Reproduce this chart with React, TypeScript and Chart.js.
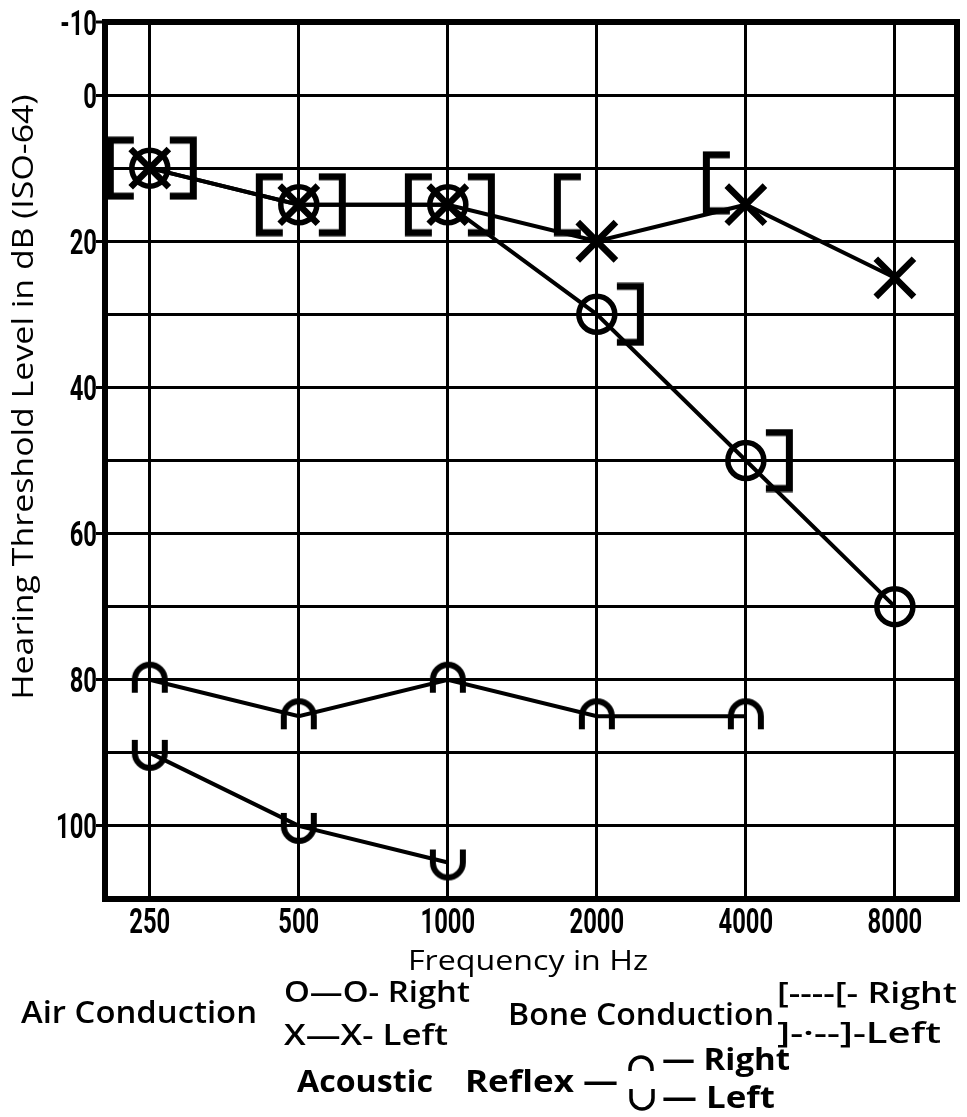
import { useEffect, useRef } from "react";
import { Chart, registerables } from "chart.js";

Chart.register(...registerables);

// ---------- data ----------
const frequencies = [250, 500, 1000, 2000, 4000, 8000];
const airRight: (number | null)[] = [10, 15, 15, 30, 50, 70];
const airLeft: (number | null)[] = [10, 15, 15, 20, 15, 25];
const boneRight: (number | null)[] = [10, 15, 15, 15, 12, null];
const boneLeft: (number | null)[] = [10, 15, 15, 30, 50, null];
const reflexRight: (number | null)[] = [80, 85, 80, 85, 85, null];
const reflexLeft: (number | null)[] = [90, 100, 105, null, null, null];
const xTickLabels = ["250", "500", "1000", "2000", "4000", "8000"];
const yTickLabels = [-10, 0, 20, 40, 60, 80, 100];
const yMin = -10;
const yMax = 110;
const xTitle = "Frequency in Hz";
const yTitle = "Hearing Threshold Level in dB (ISO-64)";

const TICK_FONT = 'bold 35px Roboto, "DejaVu Sans", sans-serif';
const TEXT_FONT = '"Open Sans", "Noto Sans", sans-serif';

function toPoints(values: (number | null)[]) {
  return frequencies
    .map((f, i) => ({ x: f, y: values[i] }))
    .filter((p) => p.y !== null) as { x: number; y: number }[];
}

function makeCanvas(w: number, h: number, draw: (c: CanvasRenderingContext2D) => void) {
  const c = document.createElement("canvas");
  c.width = w;
  c.height = h;
  const ctx = c.getContext("2d")!;
  ctx.strokeStyle = "#000";
  ctx.fillStyle = "#000";
  draw(ctx);
  return c;
}

function fitText(
  ctx: CanvasRenderingContext2D,
  text: string,
  x: number,
  baseline: number,
  width: number,
  font: string,
  align: "left" | "center" = "left"
) {
  ctx.save();
  ctx.font = font;
  ctx.textBaseline = "alphabetic";
  ctx.textAlign = "left";
  ctx.fillStyle = "#000";
  const m = ctx.measureText(text).width || 1;
  const sx = width / m;
  const left = align === "center" ? x - width / 2 : x;
  ctx.translate(left, baseline);
  ctx.scale(sx, 1);
  ctx.fillText(text, 0, 0);
  ctx.restore();
}

// condensed bold tick text
function tickText(
  ctx: CanvasRenderingContext2D,
  text: string,
  x: number,
  baseline: number,
  align: "right" | "center"
) {
  ctx.save();
  ctx.font = TICK_FONT;
  ctx.textBaseline = "alphabetic";
  ctx.textAlign = align;
  ctx.fillStyle = "#000";
  ctx.translate(x, baseline);
  ctx.scale(0.68, 1);
  ctx.fillText(text, 0, 0);
  ctx.restore();
}

export default function App() {
  const ref = useRef<HTMLCanvasElement | null>(null);

  useEffect(() => {
    document.body.style.margin = "0";
    const canvas = ref.current!;

    const bracketOpen = makeCanvas(100, 64, (c) => {
      c.lineWidth = 7;
      c.lineJoin = "miter";
      c.beginPath();
      c.moveTo(34, 4);
      c.lineTo(10.5, 4);
      c.lineTo(10.5, 60);
      c.lineTo(34, 60);
      c.stroke();
    });
    const bracketClose = makeCanvas(100, 64, (c) => {
      c.lineWidth = 7;
      c.lineJoin = "miter";
      c.beginPath();
      c.moveTo(70, 4);
      c.lineTo(93.5, 4);
      c.lineTo(93.5, 60);
      c.lineTo(70, 60);
      c.stroke();
    });
    const cap = makeCanvas(48, 48, (c) => {
      c.lineWidth = 6;
      c.beginPath();
      c.moveTo(9, 37);
      c.lineTo(9, 24);
      c.arc(24, 24, 15, Math.PI, Math.PI * 2);
      c.lineTo(39, 37);
      c.stroke();
    });
    const cup = makeCanvas(48, 48, (c) => {
      c.lineWidth = 6;
      c.beginPath();
      c.moveTo(9, 11);
      c.lineTo(9, 24);
      c.arc(24, 24, 15, Math.PI, 0, true);
      c.lineTo(39, 11);
      c.stroke();
    });

    const decor = {
      id: "decor",
      beforeDatasetsDraw(chart: any) {
        const { ctx, chartArea: a } = chart;
        ctx.save();
        ctx.strokeStyle = "#000";
        ctx.lineWidth = 6;
        ctx.strokeRect(a.left, a.top, a.right - a.left, a.bottom - a.top);
        ctx.restore();
      },
      afterDraw(chart: any) {
        const { ctx, chartArea: a } = chart;
        const xs = chart.scales.x;
        const ys = chart.scales.y;
        // tick labels, placed through the scales
        frequencies.forEach((f, i) => {
          tickText(ctx, xTickLabels[i], xs.getPixelForValue(f), a.bottom + 34, "center");
        });
        yTickLabels.forEach((v) => {
          tickText(ctx, String(v), a.left - 8, ys.getPixelForValue(v) + 12.5, "right");
        });
        // y title
        ctx.save();
        ctx.translate(33, 397);
        ctx.rotate(-Math.PI / 2);
        fitText(ctx, yTitle, 0, 0, 605, `500 29px ${TEXT_FONT}`, "center");
        ctx.restore();
        // x title
        fitText(ctx, xTitle, 408, 970, 240, `500 28px ${TEXT_FONT}`);
        // legend
        const reg = `600 28px ${TEXT_FONT}`;
        const big = `600 31px ${TEXT_FONT}`;
        const bold = `bold 30px ${TEXT_FONT}`;
        fitText(ctx, "Air Conduction", 21, 1023, 236, big);
        fitText(ctx, "O\u2014O- Right", 284, 1002, 186, reg);
        fitText(ctx, "X\u2014X- Left", 284, 1045, 164, reg);
        fitText(ctx, "Bone Conduction", 508, 1025, 266, big);
        fitText(ctx, "[----[- Right", 777, 1003, 180, reg);
        fitText(ctx, "]-\u00b7--]-Left", 777, 1043, 164, reg);
        fitText(ctx, "Acoustic", 297, 1092, 136, bold);
        fitText(ctx, "Reflex \u2014", 465, 1092, 153, bold);
        fitText(ctx, "\u2014 Right", 662, 1070, 128, bold);
        fitText(ctx, "\u2014 Left", 662, 1108, 113, bold);
        ctx.save();
        ctx.strokeStyle = "#000";
        ctx.lineWidth = 3.5;
        ctx.beginPath();
        ctx.moveTo(630, 1071);
        ctx.arc(641, 1068, 11, Math.PI, Math.PI * 2);
        ctx.lineTo(652, 1071);
        ctx.stroke();
        ctx.beginPath();
        ctx.moveTo(631, 1089);
        ctx.lineTo(631, 1098);
        ctx.arc(642, 1098, 11, Math.PI, 0, true);
        ctx.lineTo(653, 1089);
        ctx.stroke();
        ctx.restore();
      },
    };

    const lineBase = {
      type: "line" as const,
      borderColor: "#000",
      pointBorderColor: "#000",
      pointBackgroundColor: "rgba(0,0,0,0)",
      tension: 0,
      clip: false as any,
    };

    const noPad = (scale: any) => {
      scale.paddingLeft = 0;
      scale.paddingRight = 0;
      scale.paddingTop = 0;
      scale.paddingBottom = 0;
    };

    const chart = new Chart(canvas, {
      type: "line",
      data: {
        datasets: [
          {
            ...lineBase,
            label: "Air Conduction Right",
            data: toPoints(airRight),
            borderWidth: 4,
            pointStyle: "circle",
            pointRadius: 18,
            pointBorderWidth: 5.5,
          },
          {
            ...lineBase,
            label: "Air Conduction Left",
            data: toPoints(airLeft),
            borderWidth: 4,
            pointStyle: "crossRot",
            pointRadius: 27,
            pointBorderWidth: 6.5,
          },
          {
            ...lineBase,
            label: "Bone Conduction Right",
            data: toPoints(boneRight),
            showLine: false,
            pointStyle: bracketOpen as any,
          },
          {
            ...lineBase,
            label: "Bone Conduction Left",
            data: toPoints(boneLeft),
            showLine: false,
            pointStyle: bracketClose as any,
          },
          {
            ...lineBase,
            label: "Acoustic Reflex Right",
            data: toPoints(reflexRight),
            borderWidth: 4,
            pointStyle: cap as any,
          },
          {
            ...lineBase,
            label: "Acoustic Reflex Left",
            data: toPoints(reflexLeft),
            borderWidth: 4,
            pointStyle: cup as any,
          },
        ],
      },
      options: {
        animation: false,
        responsive: false,
        devicePixelRatio: 1,
        layout: { autoPadding: false, padding: { top: 22, right: 10, left: 0, bottom: 0 } },
        plugins: {
          legend: { display: false },
          tooltip: { enabled: false },
        },
        scales: {
          x: {
            type: "logarithmic",
            min: 203,
            max: 10680,
            afterBuildTicks: (scale: any) => {
              scale.ticks = frequencies.map((v) => ({ value: v }));
            },
            afterFit: (scale: any) => {
              scale.height = 218;
              noPad(scale);
            },
            ticks: { display: false, autoSkip: false },
            grid: { color: "#000", lineWidth: 3, drawTicks: false },
            border: { display: true, color: "#000", width: 6 },
          },
          y: {
            type: "linear",
            reverse: true,
            min: yMin,
            max: yMax,
            afterFit: (scale: any) => {
              scale.width = 105;
              noPad(scale);
            },
            ticks: { display: false, stepSize: 10, autoSkip: false },
            grid: {
              color: "#000",
              lineWidth: (c: any) =>
                c.tick && (c.tick.value === yMin || c.tick.value === yMax) ? 6 : 3,
              drawTicks: true,
              tickLength: 9,
              tickWidth: 3,
              tickColor: (c: any) =>
                c.tick && yTickLabels.includes(c.tick.value) ? "#000" : "rgba(0,0,0,0)",
            },
            border: { display: true, color: "#000", width: 6 },
          },
        },
      },
      plugins: [decor],
    } as any);

    return () => chart.destroy();
  }, []);

  return (
    <canvas
      ref={ref}
      width={967}
      height={1117}
      style={{ display: "block", width: 967, height: 1117 }}
    />
  );
}
